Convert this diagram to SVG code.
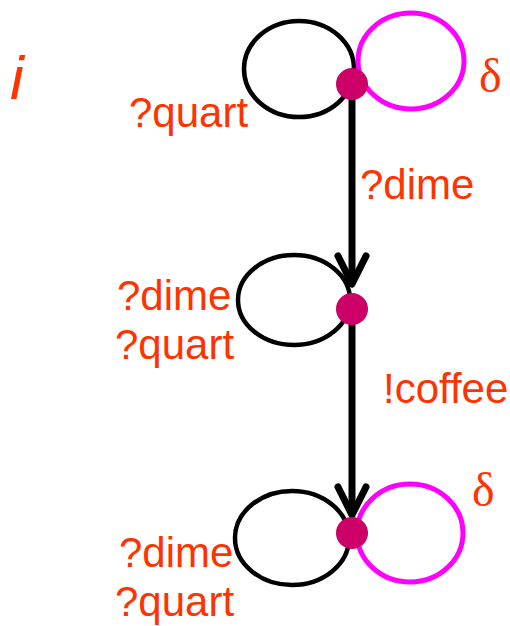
<svg xmlns="http://www.w3.org/2000/svg" width="510" height="626" viewBox="0 0 510 626">
<style>
.t{font-family:"Liberation Sans",Arial,sans-serif;font-size:42px;fill:#FF3300}
.d{font-family:"Liberation Serif","Times New Roman",serif;font-size:48px;fill:#FF3300}
.loop{fill:none;stroke:#000;stroke-width:4.5}
.delta{fill:none;stroke:#FF00FF;stroke-width:5}
.edge{fill:none;stroke:#000;stroke-width:7}
.head{fill:none;stroke:#000;stroke-width:7;stroke-linecap:round;stroke-linejoin:round}
.st{fill:#CC0066}
</style>
<rect width="510" height="626" fill="#fff"/>
<text x="10" y="99" style="font-family:'Liberation Sans',Arial,sans-serif;font-style:italic;font-size:62px;fill:#FF3300">i</text>
<g id="connectors">
<line class="edge" x1="352" y1="84" x2="352" y2="283"/>
<polyline class="head" points="338,256 352,284 366,256"/>
<line class="edge" x1="352" y1="309" x2="352" y2="515"/>
<polyline class="head" points="338,487 352,515 366,487"/>
</g>
<g id="s0">
<ellipse class="loop" cx="299" cy="69" rx="55" ry="48"/>
<ellipse class="delta" cx="411" cy="61" rx="53" ry="48"/>
<circle class="st" cx="352" cy="84" r="16"/>
<text class="t" x="129" y="127">?quart</text>
<text class="d" x="479" y="92">δ</text>
</g>
<text class="t" x="360" y="199">?dime</text>
<g id="s1">
<ellipse class="loop" cx="294" cy="300" rx="56" ry="45"/>
<circle class="st" cx="352" cy="309" r="16"/>
<text class="t" x="117" y="310">?dime</text>
<text class="t" x="115" y="359">?quart</text>
</g>
<text class="t" x="383" y="403">!coffee</text>
<g id="s2">
<ellipse class="loop" cx="292" cy="538" rx="57" ry="47"/>
<ellipse class="delta" cx="410" cy="533" rx="53" ry="49"/>
<circle class="st" cx="352" cy="533" r="16"/>
<text class="d" x="472" y="506">δ</text>
<text class="t" x="119" y="567">?dime</text>
<text class="t" x="115" y="616">?quart</text>
</g>
</svg>
